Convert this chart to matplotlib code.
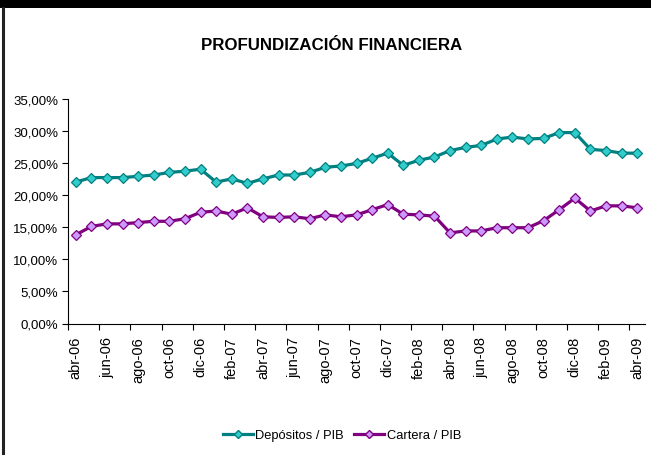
import matplotlib
matplotlib.use("Agg")
import matplotlib.pyplot as plt
from matplotlib.ticker import FuncFormatter, FixedLocator
from matplotlib.lines import Line2D
from matplotlib.patches import Rectangle

plt.rcParams['font.family'] = ['Liberation Sans', 'DejaVu Sans']

months = ['abr', 'may', 'jun', 'jul', 'ago', 'sep', 'oct', 'nov', 'dic', 'ene', 'feb', 'mar']
years = ['06'] * 9 + ['07'] * 12 + ['08'] * 12 + ['09'] * 4
categories = [f"{months[i % 12]}-{years[i]}" for i in range(37)]

depositos = [22.0, 22.7, 22.7, 22.7, 22.9, 23.1, 23.5, 23.7, 24.0, 22.0, 22.5, 21.8,
             22.5, 23.1, 23.1, 23.5, 24.3, 24.5, 24.9, 25.7, 26.5, 24.6, 25.4, 25.9,
             26.9, 27.4, 27.7, 28.7, 29.0, 28.7, 28.8, 29.7, 29.7, 27.1, 26.9, 26.5, 26.5]
cartera = [13.8, 15.1, 15.5, 15.5, 15.7, 15.9, 15.9, 16.3, 17.3, 17.5, 17.0, 18.0,
           16.6, 16.5, 16.6, 16.3, 16.9, 16.6, 16.9, 17.7, 18.5, 17.0, 16.9, 16.7,
           14.1, 14.4, 14.4, 14.9, 14.9, 14.9, 16.0, 17.7, 19.5, 17.5, 18.3, 18.3, 18.0]

series_names = ['Depósitos / PIB', 'Cartera / PIB']
title = 'PROFUNDIZACIÓN FINANCIERA'

W, H = 651, 456
fig = plt.figure(figsize=(W / 100, H / 100), dpi=100)
fig.patch.set_facecolor('white')

# frame decorations
fig.add_artist(Rectangle((0, 1 - 9 / H), 1, 9 / H, transform=fig.transFigure,
                         facecolor='black', edgecolor='none'))
fig.add_artist(Line2D([3.3 / W, 3.3 / W], [0, 1 - 9 / H], transform=fig.transFigure,
                      color='#222222', lw=2.2))

left, right, top, bottom = 68, 645, 99.5, 324.5
ax = fig.add_axes([left / W, 1 - bottom / H, (right - left) / W, (bottom - top) / H])

x = list(range(len(categories)))
ax.plot(x, depositos, color='#008080', lw=2.3, marker='D', markersize=5.5,
        markerfacecolor='#33CCCC', markeredgecolor='#008080', markeredgewidth=0.9,
        label=series_names[0], zorder=3)
ax.plot(x, cartera, color='#800080', lw=2.3, marker='D', markersize=5.5,
        markerfacecolor='#CC99FF', markeredgecolor='#800080', markeredgewidth=0.9,
        label=series_names[1], zorder=3)

ax.set_xlim(-0.5, len(categories) - 0.5)
ax.set_ylim(0, 35)
ax.set_yticks([0, 5, 10, 15, 20, 25, 30, 35])
ax.yaxis.set_major_formatter(FuncFormatter(lambda v, p: f"{v:.2f}".replace('.', ',') + '%'))

ax.xaxis.set_major_locator(FixedLocator([i - 0.5 for i in range(0, 37, 2)]))
ax.set_xticklabels([])
ax.xaxis.set_minor_locator(FixedLocator(list(range(0, 37, 2))))
ax.set_xticklabels([categories[i] for i in range(0, 37, 2)], minor=True,
                   rotation=90, fontsize=10.5)
ax.tick_params(axis='x', which='minor', length=0, pad=9)
ax.tick_params(axis='x', which='major', length=4, direction='out', width=0.8)
ax.tick_params(axis='y', length=4, direction='out', width=0.8, labelsize=9.5, pad=3)

for s in ['top', 'right']:
    ax.spines[s].set_visible(False)
for s in ['left', 'bottom']:
    ax.spines[s].set_color('black')
    ax.spines[s].set_linewidth(0.8)

fig.text(332 / W, 1 - 46 / H, title, ha='center', va='center',
         fontsize=12.2, fontweight='bold')

handles = [Line2D([], [], color='#008080', lw=2.3, marker='D', markersize=4,
                  markerfacecolor='#33CCCC', markeredgecolor='#008080'),
           Line2D([], [], color='#800080', lw=2.3, marker='D', markersize=4,
                  markerfacecolor='#CC99FF', markeredgecolor='#800080')]
fig.legend(handles, series_names, loc='center', bbox_to_anchor=(342 / W, 1 - 436 / H),
           ncol=2, frameon=False, fontsize=9.3, handlelength=2.3, handletextpad=0.2,
           columnspacing=0.8)

fig.savefig('out.png', dpi=100)
